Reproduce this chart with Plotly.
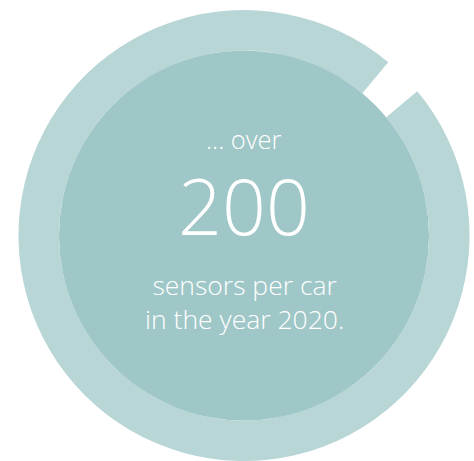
import plotly.graph_objects as go

# Data
ring_labels = ["gap", "sensors"]
ring_values = [2.9, 97.1]
inner_labels = ["core"]
inner_values = [1]
intro_text = "... over"
headline_value = "200"
caption_lines = ["sensors per car", "in the year 2020."]

RING_COLOR = "#b8d6d6"
INNER_COLOR = "#9fc7c7"
FONT = "Open Sans"

W, H = 474, 461
cx, cy_b = 244, 225.5  # center (x from left, y from bottom)
R_OUT, R_IN = 225.5, 185

fig = go.Figure()
fig.add_trace(go.Pie(
    labels=ring_labels, values=ring_values, sort=False,
    direction="clockwise",
    rotation=45 - ring_values[0] * 3.6 / 2,
    hole=R_IN / R_OUT,
    marker=dict(colors=["rgba(0,0,0,0)", RING_COLOR], line=dict(width=0)),
    textinfo="none", hoverinfo="skip", showlegend=False,
    domain=dict(x=[(cx - R_OUT) / W, (cx + R_OUT) / W],
                y=[max(0, (cy_b - R_OUT) / H), (cy_b + R_OUT) / H]),
))
fig.add_trace(go.Pie(
    labels=inner_labels, values=inner_values, sort=False,
    marker=dict(colors=[INNER_COLOR], line=dict(width=0)),
    textinfo="none", hoverinfo="skip", showlegend=False,
    domain=dict(x=[(cx - R_IN) / W, (cx + R_IN) / W],
                y=[(cy_b - R_IN) / H, (cy_b + R_IN) / H]),
))

def py(px_from_top):
    return 1 - px_from_top / H

fig.add_annotation(x=cx / W, y=py(139), xref="paper", yref="paper",
                   text=intro_text, showarrow=False, xanchor="center", yanchor="middle",
                   font=dict(family=FONT, size=25.5, color="white", weight=300))
fig.add_annotation(x=cx / W, y=py(205), xref="paper", yref="paper",
                   text=headline_value, showarrow=False, xanchor="center", yanchor="middle",
                   font=dict(family=FONT, size=77, color="white", weight=300))
fig.add_annotation(x=cx / W, y=py(302), xref="paper", yref="paper",
                   text="<br>".join(caption_lines), showarrow=False,
                   xanchor="center", yanchor="middle",
                   font=dict(family=FONT, size=26.5, color="white", weight=300))

fig.update_layout(width=W, height=H, margin=dict(l=0, r=0, t=0, b=0),
                  paper_bgcolor="white", plot_bgcolor="white")
fig.write_html("out.html", config={"displayModeBar": False},
               post_script="document.body.style.margin='0';document.body.style.overflow='hidden';")
